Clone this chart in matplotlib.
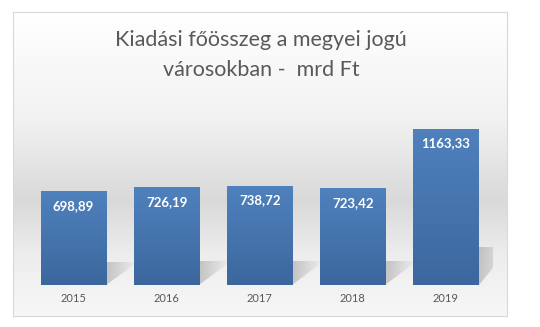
import numpy as np
import matplotlib
matplotlib.use("Agg")
import matplotlib.pyplot as plt
from matplotlib.colors import LinearSegmentedColormap
from matplotlib.patches import Polygon

# data
years = ["2015", "2016", "2017", "2018", "2019"]
values = [698.89, 726.19, 738.72, 723.42, 1163.33]
value_labels = ["698,89", "726,19", "738,72", "723,42", "1163,33"]

plt.rcParams['font.family'] = ['Lato', 'DejaVu Sans']

fig = plt.figure(figsize=(5.4, 3.27), dpi=100)
fig.patch.set_facecolor("white")

# chart frame with soft gray gradient
bg = fig.add_axes([13/540, 1-316/327, (507-13)/540, (316-12)/327])
bg_cmap = LinearSegmentedColormap.from_list(
    "bg", [(0, "#ffffff"), (0.35, "#f2f2f2"), (0.62, "#d9d9d9"), (0.8, "#ededed"), (1, "#f7f7f7")])
grad = np.linspace(0, 1, 256).reshape(-1, 1)
bg.imshow(grad, aspect="auto", cmap=bg_cmap, extent=[0, 1, 1, 0])
bg.set_xlim(0, 1)
bg.set_ylim(1, 0)
bg.set_xticks([])
bg.set_yticks([])
for s in bg.spines.values():
    s.set_color("#d9d9d9")
    s.set_linewidth(0.8)

ax = fig.add_axes([27/540, 1-285/327, (492.5-27)/540, 188/327])
ax.set_facecolor("none")
x = np.arange(len(years))
bars = ax.bar(x, values, width=0.7, color="none", edgecolor="none", zorder=3)
ax.set_xlim(-0.5, len(years) - 0.5)
ax.set_ylim(0, 1400)

bar_cmap = LinearSegmentedColormap.from_list("bar", ["#3c679e", "#4f81bd"])
shadow = np.zeros((1, 64, 4))
shadow[..., :3] = 0.55
shadow[0, :, 3] = np.linspace(0.45, 0.0, 64)
for b, lab in zip(bars, value_labels):
    x0, w, h = b.get_x(), b.get_width(), b.get_height()
    # soft shadow cast to the right of the bar
    r, sh = x0 + w, 0.245 * h
    tri = Polygon([(r, 0), (r, sh), (r + 0.34, sh)], closed=True,
                  facecolor="none", edgecolor="none")
    ax.add_patch(tri)
    sim = ax.imshow(shadow, aspect="auto", extent=[r, r + 0.34, 0, sh],
                    interpolation="bilinear", zorder=2)
    sim.set_clip_path(tri)
    im = ax.imshow(np.linspace(0, 1, 100).reshape(-1, 1), cmap=bar_cmap, aspect="auto",
                   extent=[x0, x0 + w, 0, h], origin="lower", zorder=3)
    im.set_clip_path(b)
    ax.text(b.get_x() + w/2, h - 110, lab, ha="center", va="center",
            color="white", fontsize=9.5, fontweight="bold", zorder=4)

ax.set_xticks(x)
ax.set_xticklabels(years, fontsize=8, color="#595959")
ax.tick_params(axis="x", length=0, pad=6)
ax.set_yticks([])
for s in ax.spines.values():
    s.set_visible(False)
ax.set_xlim(-0.5, len(years) - 0.5)
ax.set_ylim(0, 1400)

fig.text(0.483, 1-40/327, "Kiadási főösszeg a megyei jogú", ha="center", va="center",
         fontsize=15.5, color="#595959")
fig.text(0.483, 1-70/327, "városokban -  mrd Ft", ha="center", va="center",
         fontsize=15.5, color="#595959")

fig.savefig("out.png", dpi=100)
